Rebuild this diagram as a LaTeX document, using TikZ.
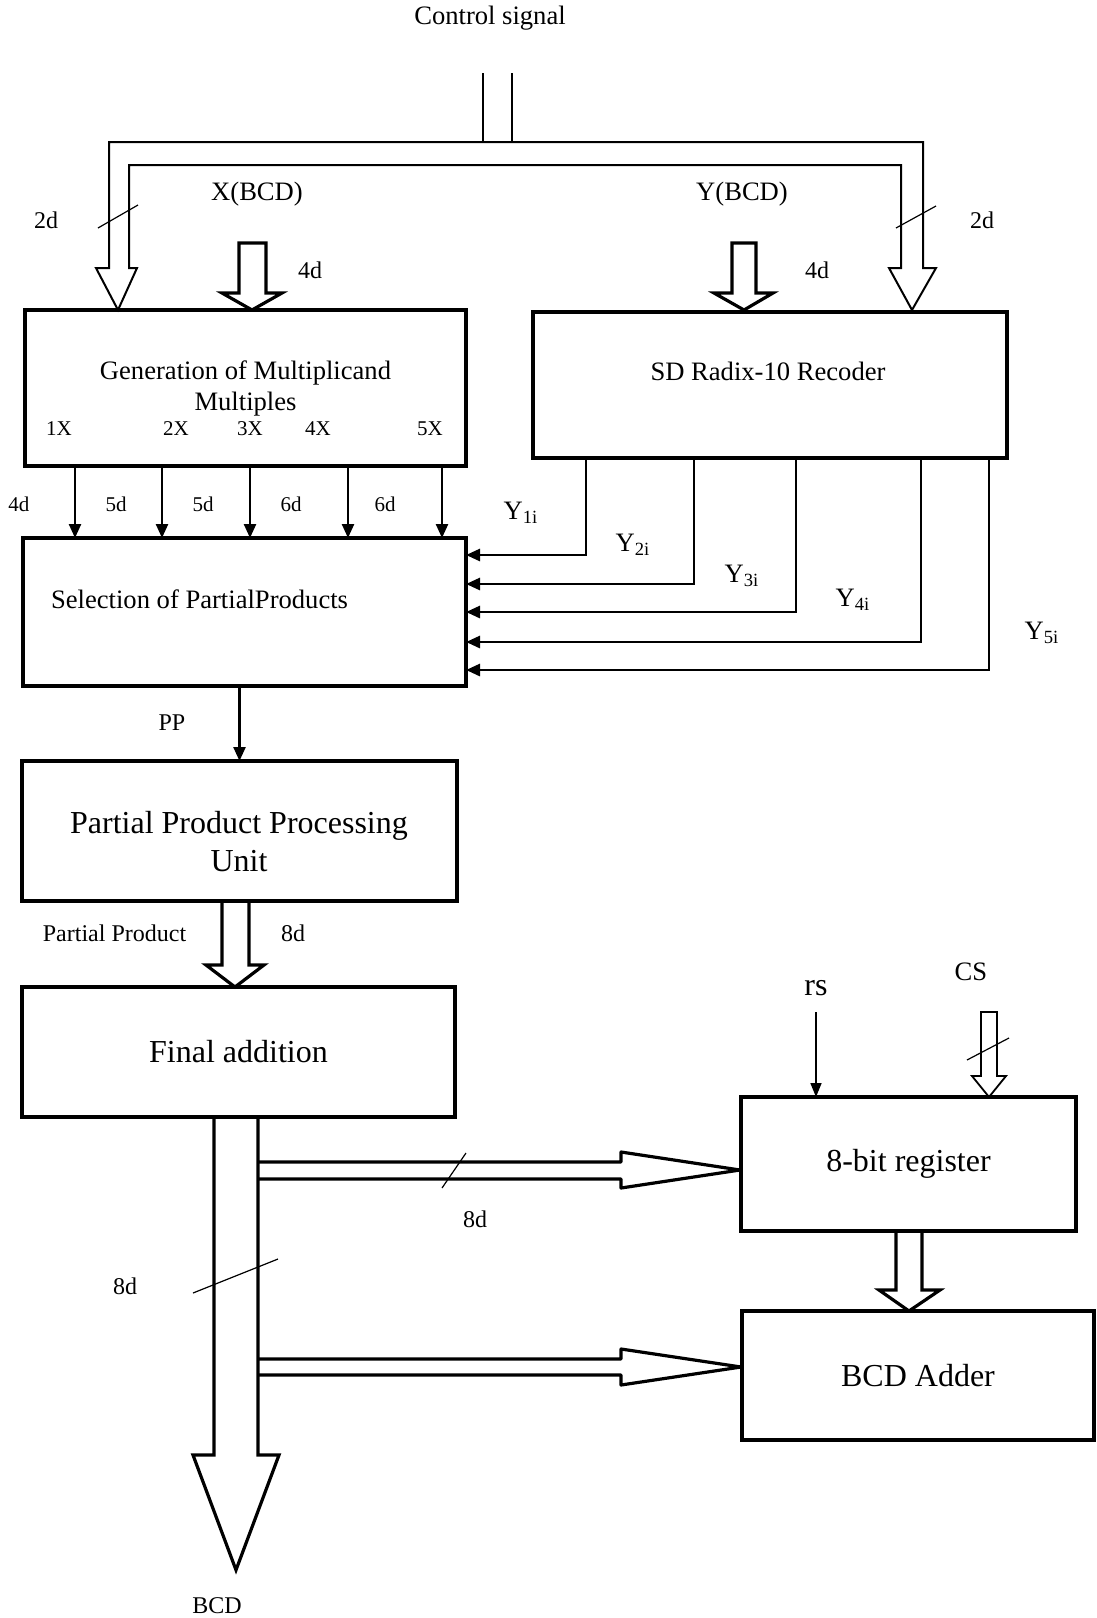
\documentclass[tikz,border=0pt]{standalone}
\usepackage{fontspec}
\setmainfont{Liberation Serif}
\usetikzlibrary{arrows.meta}
\tikzset{
  block/.style     = {draw, line width=1.7pt, inner sep=0pt, outer sep=0pt},
  wire/.style      = {line width=1.2pt, -{Triangle[length=7pt,width=6pt]}},
  thin wire/.style = {line width=0.8pt, -{Triangle[length=7pt,width=5.5pt]}},
  bus/.style       = {draw, line width=1.6pt},
  thin bus/.style  = {draw, line width=0.9pt},
  tick/.style      = {line width=0.6pt},
  small lbl/.style = {font=\fontsize{10.5}{12}\selectfont},
  lbl/.style       = {font=\fontsize{12}{14}\selectfont},
  mid lbl/.style   = {font=\fontsize{13.3}{15.5}\selectfont},
  big lbl/.style   = {font=\fontsize{16}{19}\selectfont},
}

\begin{document}
\begin{tikzpicture}[x=0.5pt, y=-0.5pt]
    \useasboundingbox (0,0) rectangle (1097,1618);
    % blocks
    \node[block, mid lbl, align=center, minimum width=220.5pt, minimum height=78pt]
      (gen) at (245.5,388) {Generation of Multiplicand\\Multiples};
    \node[block, minimum width=237pt, minimum height=73pt] (rec) at (770,385) {};
    \node[mid lbl] (recname) at (768,371) {SD Radix-10 Recoder};
    \node[block, minimum width=221.5pt, minimum height=74pt] (sel) at (244.5,612) {};
    \node[mid lbl, anchor=west] (selname) at (44,599) {Selection of PartialProducts};
    \node[block, minimum width=217.5pt, minimum height=70pt] (ppu) at (239.5,831) {};
    \node[big lbl, align=center] (ppuname) at (239,842) {Partial Product Processing\\Unit};
    \node[block, big lbl, minimum width=216.5pt, minimum height=65pt] (fin) at (238.5,1052) {Final addition};
    \node[block, big lbl, minimum width=167.5pt, minimum height=67pt] (reg) at (908.5,1164) {8-bit register};
    \node[block, big lbl, minimum width=176pt, minimum height=64.5pt] (add) at (918,1375.5) {BCD Adder};

    % inputs at the top
    \node[mid lbl] (ctl) at (490,18) {Control signal};
    \node[mid lbl] (xin) at (257,194) {X(BCD)};
    \node[mid lbl] (yin) at (742,194) {Y(BCD)};
    \coordinate (ctlin) at (497.5,73);
    \draw[thin bus] ([xshift=-7.4pt]ctlin) -- ++(0,69) ([xshift=7.4pt]ctlin) -- ++(0,69);
    \draw[line width=1pt] (129,165) -- (129,268) -- (137,268) -- (118,310) -- (96,268)
      -- (109,268) -- (109,142) -- (923,142) -- (923,268) -- (936,268) -- (912,310)
      -- (889,268) -- (901,268) -- (901,165) -- cycle;
    \draw[tick] (98,228) -- (138,205);
    \draw[tick] (896,228) -- (936,206);
    \node[lbl] (twodl) at (46,220) {2d};
    \node[lbl] (twodr) at (982,220) {2d};
    \draw[bus] (239,243) -- (239,293) -- (222,293) -- (252,310) -- (282,293) -- (266,293) -- (266,243) -- cycle;
    \draw[bus] (732,243) -- (732,293) -- (714,293) -- (744,310) -- (773,293) -- (756,293) -- (756,243) -- cycle;
    \node[lbl] (fourdl) at (310,270) {4d};
    \node[lbl] (fourdr) at (817,270) {4d};

    % multiples
    \foreach \x/\m in {59/1X,176/2X,250/3X,318/4X,430/5X}
      \node[small lbl] (m\m) at (\x,429) {\m};
    \foreach \x/\lx/\w in {75/19/4d,162/116/5d,250/203/5d,348/291/6d,442/385/6d}{
      \draw[wire] (\x,0 |- gen.south) -- (\x,0 |- sel.north);
      \node[small lbl] (w\x) at (\lx,504) {\w};
    }

    % recoder digits
    \foreach \x/\y/\n/\lx/\ly in {586/555/1/521/513,694/584/2/633/545,796/612/3/742/576,921/642/4/853/600,989/670/5/1042/633}{
      \draw[wire, line width=1.4pt] (\x,0 |- rec.south) -- (\x,\y) -- (sel.east |- 0,\y);
      \node[mid lbl] (y\n) at (\lx,\ly) {Y\textsubscript{\n i}};
    }

    % partial products
    \draw[wire] (ppu.north |- sel.south) -- (ppu.north);
    \node[lbl] (pp) at (172,723) {PP};
    \draw[bus] (222,901) -- (222,965) -- (206,965) -- (235,987) -- (264,965) -- (249,965) -- (249,901);
    \node[lbl] (ppl) at (114.5,933) {Partial Product};
    \node[lbl] (eightda) at (293,933) {8d};

    % register and adder
    \node[big lbl] (rs) at (816,988) {rs};
    \coordinate (rsin) at (816,1012);
    \draw[thin wire] (rsin) -- (rsin |- reg.north);
    \node[mid lbl] (cs) at (971,972) {CS};
    \draw[thin bus] (981,1012) -- (981,1076) -- (972,1076) -- (989,1097) -- (1006,1076) -- (997,1076) -- (997,1012) -- cycle;
    \draw[tick] (967,1060) -- (1009,1038);
    \draw[bus] (896,1231) -- (896,1290) -- (879,1290) -- (909,1311) -- (940,1290) -- (922,1290) -- (922,1231);

    % result bus
    \draw[bus] (214,1117) -- (214,1455) -- (193,1455) -- (236,1570) -- (279,1455) -- (258,1455) -- (258,1117);
    \draw[bus, line join=round] (258,1162) -- (621,1162) -- (621,1152) -- (740,1170) -- (621,1188) -- (621,1179) -- (258,1179);
    \draw[bus, line join=round] (258,1359) -- (621,1359) -- (621,1349) -- (741,1367) -- (621,1385) -- (621,1375) -- (258,1375);
    \draw[tick] (193,1293) -- (278,1259);
    \draw[tick] (442,1188) -- (466,1153);
    \node[lbl] (eightdb) at (125,1286) {8d};
    \node[lbl] (eightdc) at (475,1219) {8d};
    \node[lbl] (bcd) at (217,1606) {BCD};
  \end{tikzpicture}
\end{document}
